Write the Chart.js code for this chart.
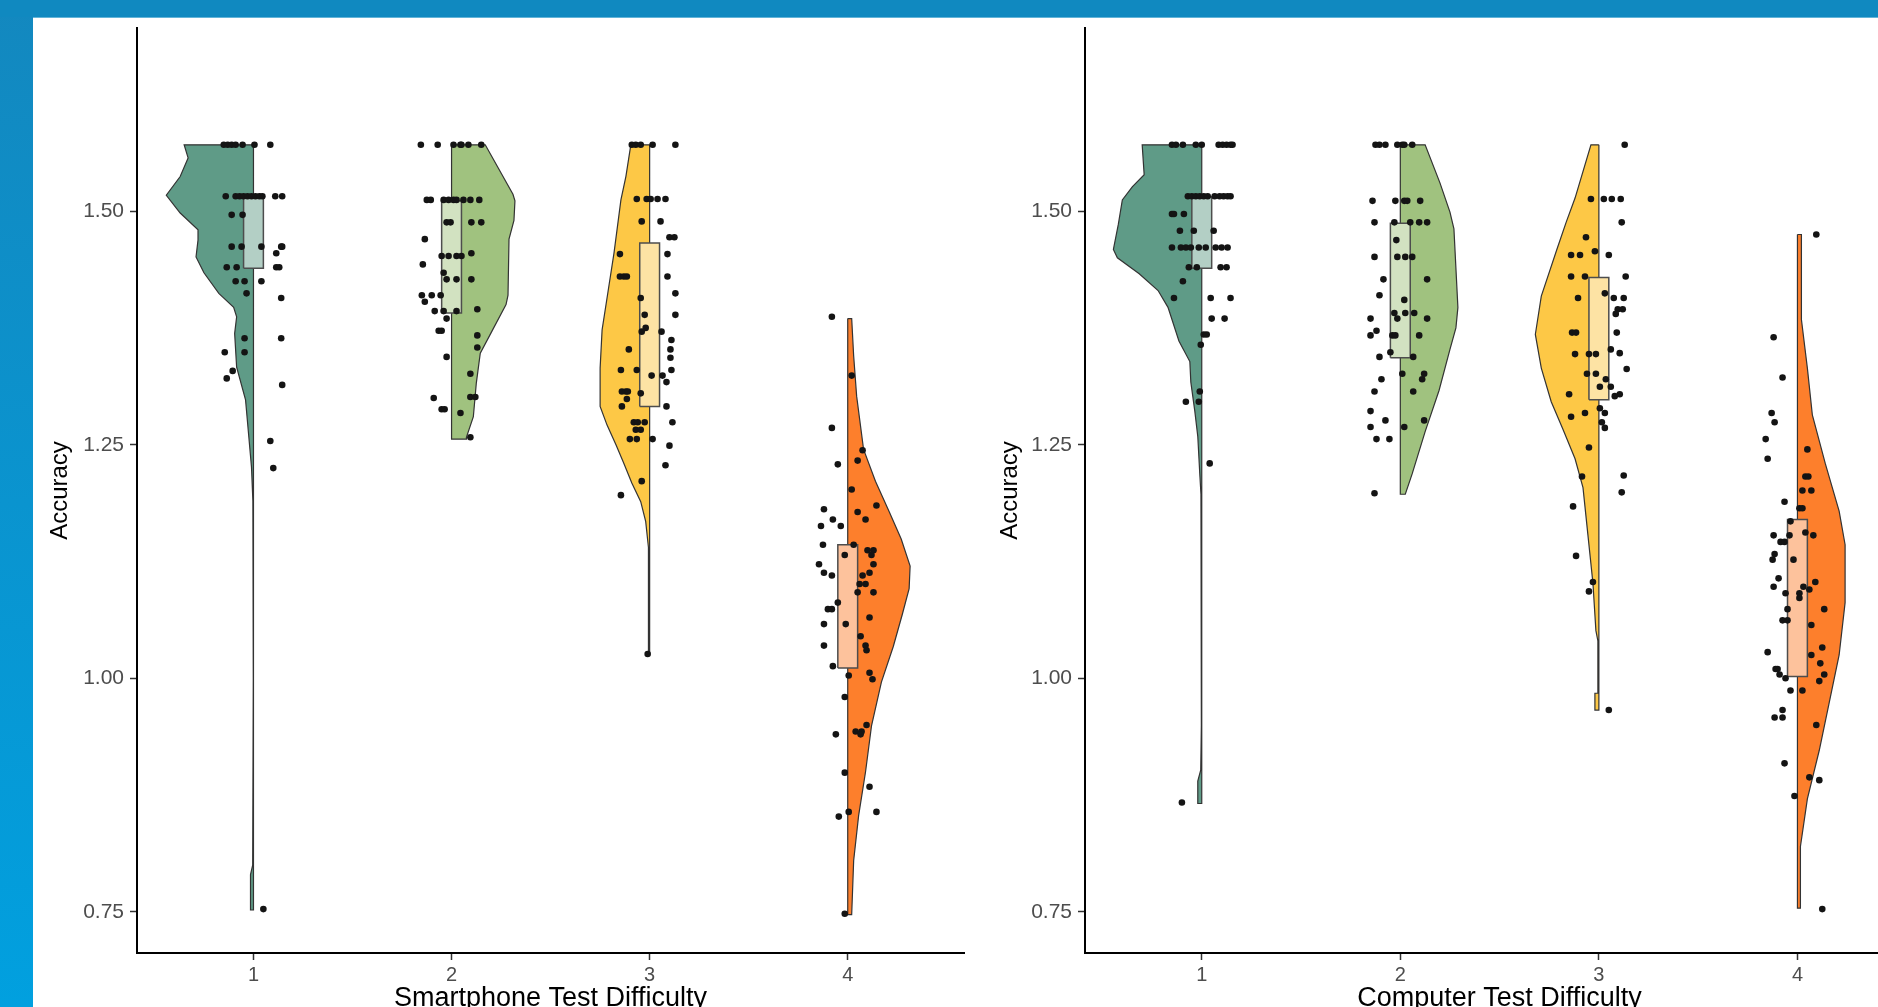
<!doctype html>
<html lang="en">
    <head>
        <meta charset="UTF-8" />
        <title>Accuracy by Test Difficulty</title>
        <script src="https://cdn.jsdelivr.net/npm/chart.js"></script>
        <style>
            body {
                margin: 0;
                width: 1878px;
                height: 1007px;
                overflow: hidden;
                position: relative;
                background: linear-gradient(to bottom, #1388bf, #01a0df);
            }
            #topbar { position: absolute; left: 0; top: 0; width: 1878px; height: 17px; background: #1089c0; }
            #panel { position: absolute; left: 33px; top: 17px; right: 0; bottom: 0; background: #fff; border-top: 1px solid #63b4d8; }
            canvas { position: absolute; top: 0; }
            #phoneChart { left: 33px; }
            #pcChart { left: 983px; }
        </style>
    </head>
    <body>
        <div id="topbar"></div>
        <div id="panel"></div>
        <canvas id="phoneChart" width="935" height="1015"></canvas>
        <canvas id="pcChart" width="935" height="1015"></canvas>
        <script>
            // categories and axes
            var xTicks = [1, 2, 3, 4];
            var yTicks = [0.75, 1.0, 1.25, 1.5];
            var groupColors = ["#5f9b87", "#a0c27f", "#fdc846", "#fd7f2c"];
            var boxColors = ["#b3cfc5", "#d2e2c1", "#fde3a4", "#fdc29c"];
            var violinSide = [-1, 1, -1, 1]; // which side of the category the cloud is drawn

            // violin outlines: [accuracy, half width]
            var phoneViolin1 = [[1.571,0.35],[1.557,0.33],[1.537,0.37],[1.517,0.44],[1.498,0.37],[1.48,0.28],[1.469,0.28],[1.451,0.29],[1.434,0.25],[1.412,0.175],[1.397,0.10],[1.387,0.085],[1.369,0.095],[1.333,0.085],[1.298,0.04],[1.262,0.025],[1.226,0.01],[1.19,0.003],[1.0,0.001],[0.80,0.004],[0.79,0.015],[0.76,0.015],[0.752,0.015]];
            var phoneViolin2 = [[1.571,0.17],[1.518,0.31],[1.511,0.32],[1.49,0.315],[1.47,0.29],[1.41,0.285],[1.40,0.275],[1.37,0.20],[1.348,0.145],[1.316,0.125],[1.28,0.11],[1.258,0.075],[1.256,0.075]];
            var phoneViolin3 = [[1.571,0.095],[1.537,0.12],[1.512,0.145],[1.455,0.18],[1.414,0.21],[1.373,0.24],[1.332,0.25],[1.291,0.25],[1.271,0.215],[1.25,0.17],[1.23,0.13],[1.209,0.09],[1.189,0.045],[1.168,0.02],[1.14,0.006],[1.026,0.006]];
            var phoneViolin4 = [[1.385,0.02],[1.345,0.03],[1.302,0.045],[1.245,0.08],[1.211,0.14],[1.178,0.21],[1.149,0.27],[1.12,0.315],[1.096,0.31],[1.068,0.275],[1.034,0.23],[0.996,0.17],[0.949,0.12],[0.90,0.09],[0.853,0.055],[0.805,0.03],[0.747,0.02]];

            var pcViolin1 = [[1.571,0.30],[1.539,0.29],[1.526,0.35],[1.512,0.40],[1.486,0.42],[1.459,0.445],[1.45,0.425],[1.433,0.315],[1.415,0.22],[1.397,0.17],[1.361,0.115],[1.339,0.06],[1.317,0.055],[1.286,0.035],[1.259,0.02],[1.219,0.01],[1.197,0.004],[0.95,0.002],[0.902,0.005],[0.89,0.02],[0.866,0.02]];
            var pcViolin2 = [[1.571,0.125],[1.53,0.20],[1.499,0.25],[1.481,0.27],[1.397,0.29],[1.375,0.28],[1.352,0.25],[1.308,0.195],[1.264,0.125],[1.219,0.06],[1.197,0.025]];
            var pcViolin3 = [[1.571,0.04],[1.514,0.12],[1.488,0.165],[1.46,0.21],[1.409,0.29],[1.368,0.32],[1.332,0.29],[1.296,0.24],[1.266,0.18],[1.235,0.12],[1.204,0.08],[1.153,0.055],[1.102,0.03],[1.051,0.015],[1.04,0.005],[0.984,0.005],[0.984,0.02],[0.966,0.02]];
            var pcViolin4 = [[1.475,0.02],[1.384,0.02],[1.332,0.05],[1.282,0.075],[1.23,0.14],[1.179,0.21],[1.143,0.24],[1.081,0.24],[1.025,0.21],[0.974,0.16],[0.923,0.11],[0.871,0.05],[0.82,0.015],[0.754,0.015]];

            // box plots: [q1, median, q3]
            var phoneBoxes = [[1.439, 1.515, 1.515], [1.391, 1.452, 1.511], [1.291, 1.364, 1.466], [1.011, 1.095, 1.143]];
            var pcBoxes = [[1.439, 1.47, 1.515], [1.343, 1.407, 1.487], [1.298, 1.362, 1.429], [1.002, 1.097, 1.17]];

            // jittered raw points: [offset from category, accuracy]
            var phonePts1 = [[-0.15,1.571],[-0.13,1.571],[-0.11,1.571],[-0.09,1.571],[-0.055,1.571],[0.005,1.571],[0.085,1.571],
                [-0.14,1.516],[-0.09,1.516],[-0.07,1.516],[-0.05,1.516],[-0.03,1.516],[-0.01,1.516],[0.01,1.516],[0.03,1.516],[0.045,1.516],[0.11,1.516],[0.145,1.516],
                [-0.11,1.496],[-0.055,1.496],[-0.11,1.462],[-0.06,1.462],[0.04,1.462],[0.115,1.455],[0.14,1.462],[0.145,1.462],
                [-0.135,1.44],[-0.085,1.44],[0.115,1.44],[0.13,1.44],[-0.09,1.425],[-0.045,1.425],[0.04,1.425],
                [-0.035,1.412],[0.14,1.407],[-0.045,1.364],[0.14,1.364],[-0.145,1.349],[-0.045,1.349],
                [-0.105,1.329],[-0.135,1.321],[0.145,1.314],[0.085,1.254],[0.10,1.225],[0.05,0.753]];
            var phonePts2 = [[-0.155,1.571],[-0.07,1.571],[0.01,1.571],[0.045,1.571],[0.05,1.571],[0.085,1.571],[0.15,1.571],
                [-0.125,1.512],[-0.105,1.512],[-0.04,1.512],[-0.015,1.512],[0.01,1.512],[0.025,1.512],[0.06,1.512],[0.095,1.512],[0.14,1.512],
                [-0.025,1.488],[-0.005,1.488],[0.1,1.488],[0.15,1.488],[-0.135,1.47],[0.1,1.455],
                [-0.05,1.452],[-0.015,1.452],[0.025,1.452],[0.05,1.452],[-0.145,1.443],[-0.04,1.434],
                [-0.025,1.427],[0.025,1.427],[0.1,1.427],[-0.15,1.41],[-0.1,1.41],[-0.055,1.41],[-0.135,1.403],
                [-0.085,1.393],[-0.04,1.393],[0.025,1.393],[0.13,1.395],[-0.025,1.385],[-0.065,1.372],[-0.05,1.372],
                [0.13,1.367],[0.13,1.354],[-0.025,1.344],[0.095,1.326],[0.095,1.301],[0.12,1.301],[-0.09,1.30],
                [-0.05,1.288],[-0.035,1.288],[0.045,1.284],[0.095,1.258]];
            var phonePts3 = [[-0.09,1.571],[-0.07,1.571],[-0.045,1.571],[0.015,1.571],[0.13,1.571],
                [-0.065,1.513],[-0.015,1.513],[0.005,1.513],[0.04,1.513],[0.08,1.513],
                [-0.04,1.489],[0.055,1.489],[0.1,1.472],[0.125,1.472],[-0.15,1.454],[0.09,1.454],
                [-0.15,1.43],[-0.13,1.43],[-0.115,1.43],[0.09,1.43],[0.13,1.412],[-0.045,1.407],[-0.025,1.389],[0.13,1.389],
                [-0.02,1.375],[-0.04,1.371],[0.06,1.371],[0.11,1.362],[-0.105,1.352],[0.105,1.352],[0.105,1.343],
                [-0.145,1.33],[-0.065,1.33],[0.11,1.33],[0.01,1.324],[0.065,1.324],[0.085,1.317],
                [-0.14,1.307],[-0.12,1.307],[-0.11,1.307],[-0.045,1.305],[-0.115,1.299],[-0.14,1.291],[0.085,1.291],
                [-0.08,1.274],[-0.06,1.274],[-0.025,1.274],[0.115,1.274],[-0.07,1.266],[-0.045,1.266],
                [-0.1,1.256],[-0.065,1.256],[0.015,1.256],[0.1,1.249],[0.08,1.228],[-0.04,1.211],[-0.145,1.196],[-0.01,1.026]];
            var phonePts4 = [[-0.08,1.387],[0.02,1.324],[-0.08,1.268],[0.075,1.244],[0.05,1.233],[-0.05,1.229],[0.02,1.202],
                [0.145,1.185],[-0.12,1.181],[0.05,1.178],[-0.075,1.17],[0.09,1.17],[-0.135,1.163],[-0.035,1.163],
                [-0.125,1.143],[0.03,1.143],[0.1,1.137],[0.13,1.137],[-0.015,1.132],[0.12,1.132],[-0.145,1.122],[0.13,1.122],
                [-0.12,1.113],[0.11,1.113],[-0.08,1.11],[0.075,1.11],[0.06,1.101],[0.09,1.101],[0.05,1.092],[0.13,1.092],
                [-0.05,1.081],[-0.1,1.074],[-0.08,1.074],[0.11,1.065],[-0.12,1.058],[-0.01,1.058],[0.065,1.045],
                [-0.12,1.035],[0.09,1.035],[0.095,1.03],[-0.075,1.013],[0.11,1.006],[0.005,1.003],[0.125,0.999],
                [-0.015,0.98],[0.095,0.95],[0.04,0.943],[0.07,0.943],[-0.06,0.94],[0.065,0.94],
                [-0.015,0.899],[0.11,0.884],[0.005,0.857],[0.145,0.857],[-0.045,0.852],[-0.015,0.748]];

            var pcPts1 = [[-0.15,1.571],[-0.13,1.571],[-0.095,1.571],[-0.03,1.571],[0,1.571],[0.085,1.571],[0.105,1.571],[0.125,1.571],[0.145,1.571],[0.155,1.571],
                [-0.07,1.516],[-0.05,1.516],[-0.03,1.516],[-0.01,1.516],[0.01,1.516],[0.03,1.516],[0.065,1.516],[0.09,1.516],[0.11,1.516],[0.13,1.516],[0.145,1.516],
                [-0.15,1.497],[-0.14,1.497],[-0.09,1.497],[-0.11,1.479],[-0.04,1.479],[0.06,1.479],
                [-0.15,1.461],[-0.105,1.461],[-0.08,1.461],[-0.055,1.461],[-0.015,1.461],[0.02,1.461],[0.07,1.461],[0.1,1.461],[0.13,1.461],
                [-0.065,1.44],[-0.025,1.44],[0.095,1.44],[0.125,1.44],[-0.095,1.425],[-0.14,1.407],[0.045,1.407],[0.145,1.407],
                [0.05,1.385],[0.115,1.385],[0.01,1.368],[0.025,1.368],[-0.005,1.357],
                [-0.01,1.307],[-0.08,1.296],[-0.015,1.296],[0.04,1.23],[-0.1,0.867]];
            var pcPts2 = [[-0.125,1.571],[-0.105,1.571],[-0.075,1.571],[-0.015,1.571],[0.01,1.571],[0.02,1.571],[0.06,1.571],
                [-0.14,1.511],[-0.025,1.511],[0.02,1.511],[0.035,1.511],[0.1,1.511],
                [-0.13,1.488],[-0.03,1.488],[0.05,1.488],[0.095,1.488],[0.135,1.488],[-0.02,1.469],
                [-0.13,1.451],[-0.015,1.451],[0.025,1.451],[0.06,1.451],[-0.085,1.427],[0.135,1.427],
                [-0.105,1.41],[0.02,1.405],[-0.03,1.391],[0.025,1.391],[0.07,1.391],[-0.15,1.385],[-0.015,1.385],[0.135,1.385],
                [-0.12,1.372],[-0.15,1.367],[-0.04,1.367],[-0.025,1.367],[0.095,1.367],[-0.05,1.349],[-0.105,1.344],[0.065,1.344],
                [0.01,1.326],[0.12,1.326],[-0.095,1.32],[0.11,1.32],[-0.13,1.307],[0.065,1.307],[-0.15,1.286],
                [-0.075,1.276],[0.12,1.276],[-0.15,1.269],[0.02,1.269],[-0.12,1.256],[-0.055,1.256],[-0.13,1.198]];
            var pcPts3 = [[0.13,1.571],[-0.04,1.513],[0.025,1.513],[0.065,1.513],[0.11,1.513],
                [0.115,1.488],[-0.065,1.472],[-0.02,1.457],[-0.14,1.453],[-0.095,1.453],[0.05,1.453],
                [-0.14,1.43],[-0.07,1.43],[0.135,1.43],[0.03,1.412],[-0.105,1.407],[0.075,1.407],[0.125,1.407],
                [0.095,1.395],[0.12,1.395],[0.085,1.39],[-0.135,1.37],[-0.115,1.37],[0.09,1.37],
                [0.06,1.352],[0.105,1.348],[-0.12,1.347],[-0.05,1.347],[-0.015,1.347],
                [0.14,1.331],[-0.06,1.326],[-0.015,1.326],[0.035,1.32],[0.005,1.312],[0.06,1.312],[-0.15,1.304],[0.105,1.304],[0.08,1.302],
                [0.005,1.289],[-0.07,1.284],[0.03,1.284],[-0.14,1.28],[0.015,1.274],[0.03,1.268],
                [-0.05,1.247],[0.125,1.217],[-0.085,1.216],[0.115,1.199],[-0.13,1.184],
                [-0.115,1.131],[-0.03,1.103],[-0.05,1.093],[0.05,0.966]];
            var pcPts4 = [[0.095,1.475],[-0.12,1.365],[-0.075,1.322],[-0.13,1.284],[-0.115,1.274],[-0.16,1.256],[0.05,1.245],[-0.15,1.235],
                [0.04,1.216],[0.055,1.216],[0.025,1.201],[0.07,1.201],[-0.065,1.189],[0.01,1.182],[0.025,1.182],[-0.035,1.168],
                [0.04,1.156],[-0.12,1.153],[-0.04,1.153],[0.08,1.153],[-0.085,1.146],[-0.065,1.146],[-0.115,1.133],[-0.125,1.127],[-0.02,1.127],
                [-0.095,1.107],[0.09,1.103],[-0.12,1.098],[0.03,1.098],[0.06,1.095],[-0.06,1.091],[0.01,1.091],[0.01,1.086],
                [-0.05,1.074],[0.135,1.074],[-0.075,1.062],[-0.05,1.062],[0.07,1.057],[0.125,1.033],[-0.15,1.028],[0.07,1.025],
                [0.115,1.016],[-0.11,1.01],[-0.1,1.01],[-0.09,1.004],[0.135,1.004],[-0.06,1.0],[0.11,0.997],[-0.035,0.987],[0.025,0.987],
                [-0.075,0.966],[-0.115,0.958],[-0.075,0.958],[0.095,0.95],[-0.065,0.909],[0.06,0.894],[0.11,0.891],[-0.015,0.874],[0.125,0.753]];

            var boxHalf = 0.05;
            var fontFamily = '"Liberation Sans", Arial, sans-serif';
            Chart.defaults.font.family = fontFamily;

            function makeChart(id, xTitle, violins, boxes, points, yWidth) {
                var datasets = [];
                points.forEach(function (pts, i) {
                    datasets.push({
                        type: "scatter",
                        data: pts.map(p => ({ x: xTicks[i] + p[0], y: p[1] })),
                        pointRadius: 3.3,
                        pointBackgroundColor: "#141414",
                        pointBorderWidth: 0,
                        order: 0
                    });
                });
                boxes.forEach(function (b, i) {
                    var c = xTicks[i];
                    datasets.push({
                        type: "line",
                        data: [
                            { x: c - boxHalf, y: b[0] },
                            { x: c + boxHalf, y: b[0] },
                            { x: c + boxHalf, y: b[2] },
                            { x: c - boxHalf, y: b[2] },
                            { x: c - boxHalf, y: b[0] }
                        ],
                        fill: "shape",
                        backgroundColor: boxColors[i],
                        borderColor: "#4d4d4d",
                        borderWidth: 1.5,
                        pointRadius: 0,
                        order: 1
                    });
                    datasets.push({
                        type: "line",
                        data: [
                            { x: c - boxHalf, y: b[1] },
                            { x: c + boxHalf, y: b[1] }
                        ],
                        fill: false,
                        borderColor: "#3a3a3a",
                        borderWidth: 2,
                        pointRadius: 0,
                        order: 1
                    });
                });
                violins.forEach(function (v, i) {
                    var c = xTicks[i];
                    var s = violinSide[i];
                    var pts = [{ x: c, y: v[0][0] }];
                    v.forEach(p => pts.push({ x: c + s * p[1], y: p[0] }));
                    pts.push({ x: c, y: v[v.length - 1][0] });
                    pts.push({ x: c, y: v[0][0] });
                    datasets.push({
                        type: "line",
                        data: pts,
                        fill: "shape",
                        backgroundColor: groupColors[i],
                        borderColor: "#333333",
                        borderWidth: 1.2,
                        pointRadius: 0,
                        tension: 0,
                        order: 2
                    });
                });

                var grid = { drawOnChartArea: false, drawTicks: true, tickLength: 7, tickColor: "#333", tickWidth: 1.5 };
                var border = { display: true, color: "#000", width: 2 };

                return new Chart(document.getElementById(id).getContext("2d"), {
                    type: "line",
                    data: { datasets: datasets },
                    options: {
                        responsive: false,
                        animation: false,
                        events: [],
                        layout: { padding: { top: 28, left: 0, right: 0, bottom: 0 } },
                        plugins: { legend: { display: false }, tooltip: { enabled: false } },
                        scales: {
                            x: {
                                type: "linear",
                                min: 0.412,
                                max: 4.587,
                                afterBuildTicks: function (scale) {
                                    scale.ticks = xTicks.map(v => ({ value: v }));
                                },
                                afterFit: function (scale) {
                                    scale.height = 62;
                                },
                                ticks: { color: "#4d4d4d", font: { size: 20 }, padding: 3, maxRotation: 0, callback: v => String(v) },
                                grid: grid,
                                border: border,
                                title: { display: true, text: xTitle, color: "#000", font: { size: 27 }, padding: { top: 0, bottom: 0 } }
                            },
                            y: {
                                type: "linear",
                                min: 0.706,
                                max: 1.696,
                                afterBuildTicks: function (scale) {
                                    scale.ticks = yTicks.map(v => ({ value: v }));
                                },
                                afterFit: function (scale) {
                                    scale.width = yWidth;
                                },
                                ticks: { color: "#4d4d4d", font: { size: 21 }, padding: 6, callback: v => v.toFixed(2) },
                                grid: grid,
                                border: border,
                                title: { display: true, text: "Accuracy", color: "#000", font: { size: 24 }, padding: { top: 12.6, bottom: 0 } }
                            }
                        }
                    }
                });
            }

            makeChart("phoneChart", "Smartphone Test Difficulty", [phoneViolin1, phoneViolin2, phoneViolin3, phoneViolin4], phoneBoxes, [phonePts1, phonePts2, phonePts3, phonePts4], 104);
            makeChart("pcChart", "Computer Test Difficulty", [pcViolin1, pcViolin2, pcViolin3, pcViolin4], pcBoxes, [pcPts1, pcPts2, pcPts3, pcPts4], 102);
        </script>
    </body>
</html>
